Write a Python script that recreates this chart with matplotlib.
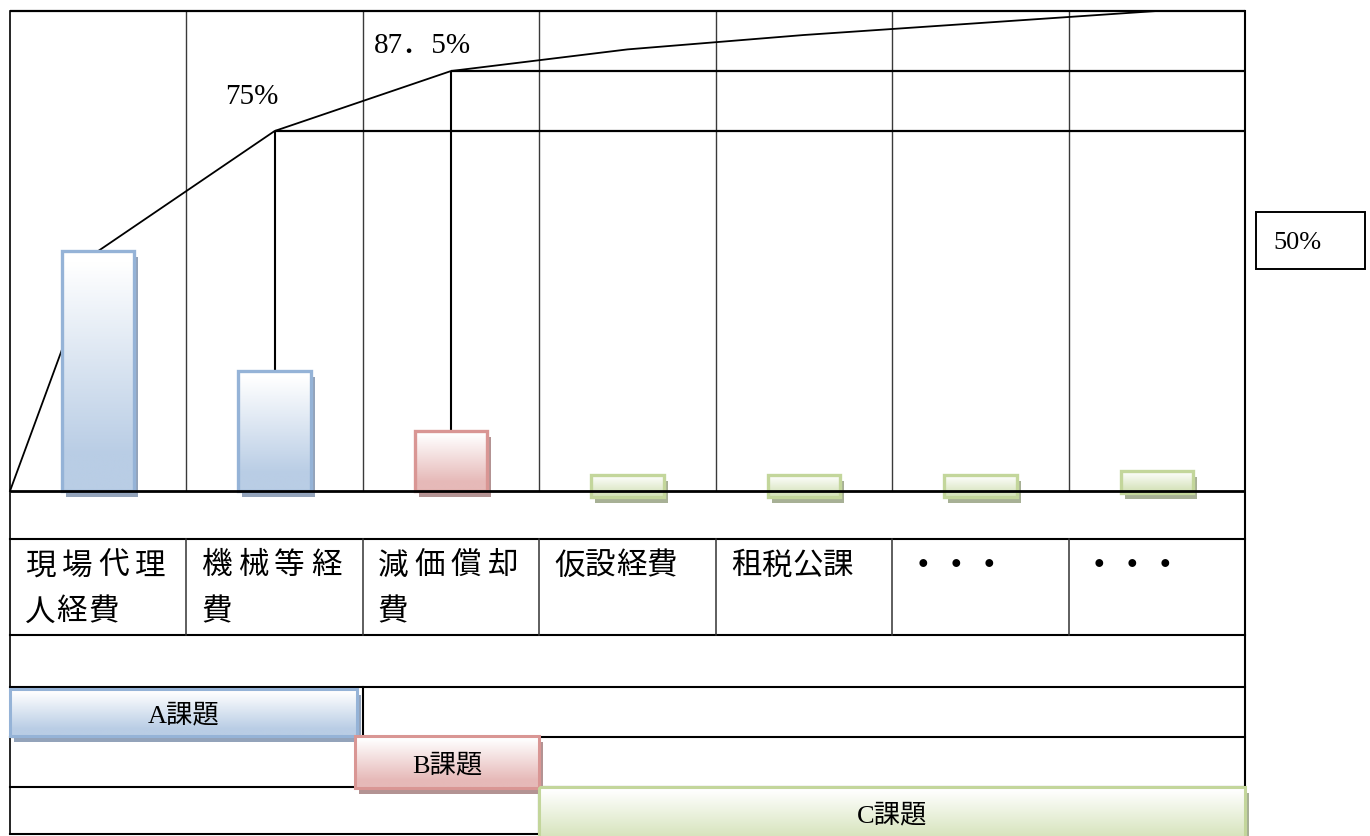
import matplotlib
matplotlib.use("Agg")
import numpy as np
import matplotlib.pyplot as plt
from matplotlib import transforms
from matplotlib.patches import Rectangle

# ---- data -------------------------------------------------------------
categories = ["現場代理人経費", "機械等経費", "減価償却費", "仮設経費", "租税公課", "・・・", "・・・"]
shares = [50, 25, 12.5, 3.3, 3.3, 3.3, 4.2]          # share of each cost item (%)
cumulative = [50, 75, 87.5, 92, 95, 97.5, 100]       # running total (%)
item_group = [0, 0, 1, 2, 2, 2, 2]                   # which task group each item falls in
groups = ["A課題", "B課題", "C課題"]
group_first = [0, 2, 3]
group_last = [1, 2, 6]

# ---- styles -----------------------------------------------------------
fill_col = ["#b9cde5", "#e6b9b8", "#d7e4bd"]
edge_col = ["#95b3d7", "#d99694", "#c3d69b"]
shadow_col = ["#93a3ba", "#b39393", "#a7b095"]
CJK = ["Noto Sans CJK JP", "DejaVu Sans"]
SERIF = ["Liberation Serif", "Noto Sans CJK JP", "DejaVu Sans"]
TAB = 4.6            # height of the small tab boxes for minor items

W, H = 1370, 837
fig = plt.figure(figsize=(W / 100, H / 100), dpi=100)
fig.patch.set_facecolor("white")

# overlay in pixel units (y down) for the table frame and text
ov = fig.add_axes([0, 0, 1, 1])
ov.axis("off")
# chart area: categories along x, percent along y
ax = fig.add_axes([10 / W, 1 - 492 / H, 1235 / W, 480 / H])
ax.axis("off")
ax.patch.set_visible(False)
ov.set_xlim(0, W); ov.set_ylim(H, 0)
ax.set_xlim(-0.5, len(categories) - 0.5); ax.set_ylim(0, 100)

blend = transforms.blended_transform_factory(ax.transData, ov.transData)
shift = transforms.ScaledTranslation(4 / 100, -6 / 100, fig.dpi_scale_trans)


def gradient(color, n=128):
    c = np.array(matplotlib.colors.to_rgb(color))
    t = np.clip((np.linspace(0, 1, n) - 0.05) / 0.8, 0, 1)[:, None]
    rgb = (1 - t) * np.ones(3) + t * c
    return rgb[:, None, :]


def to_px(x):
    disp = ax.transData.transform((x, 0))
    return ov.transData.inverted().transform(disp)[0]


def hline(y, x0, x1, lw=1.5, color="black"):
    ov.plot([x0, x1], [y, y], color=color, lw=lw, transform=blend,
            solid_capstyle="projecting", zorder=2)


def vline(x, y0, y1, lw=1.5, color="black"):
    ov.plot([x, x], [y0, y1], color=color, lw=lw, transform=blend,
            solid_capstyle="projecting", zorder=2)


n = len(categories)
left, right = -0.5, n - 0.5

# ---- table frame below the chart --------------------------------------
for y in [540, 636, 688, 738, 788]:
    hline(y, left, right)
hline(835, left, 2.5)
vline(left, 12, 835, lw=1.2)
vline(right, 12, 790)
for xb in np.arange(0.5, n - 1):
    vline(xb, 540, 636, lw=1.1, color="#333333")
vline(1.5, 688, 738)
vline(2.5, 788, 835)

# ---- chart grid --------------------------------------------------------
ax.vlines(np.arange(0.5, n - 1), 0, 100, colors="#3a3a3a", lw=1.0, zorder=1)
ax.hlines(100, left, right, colors="black", lw=1.6, zorder=1, clip_on=False)
ax.hlines(0, left, right, colors="black", lw=2.0, zorder=6, clip_on=False)

# ---- bars ---------------------------------------------------------------
x = np.arange(n)
bottoms = [0 if s > TAB * 2 else s - TAB for s in shares]
heights = [s - b for s, b in zip(shares, bottoms)]
bars = ax.bar(x, heights, bottom=bottoms, width=0.41, facecolor="none",
              edgecolor=[edge_col[g] for g in item_group], linewidth=2.4,
              zorder=5, clip_on=False)
for rect, g in zip(bars, item_group):
    x0, y0 = rect.get_x(), rect.get_y()
    w, h = rect.get_width(), rect.get_height()
    ax.add_patch(Rectangle((x0, y0), w, h, facecolor=shadow_col[g], edgecolor="none",
                           transform=ax.transData + shift, zorder=3, clip_on=False))
    ax.imshow(gradient(fill_col[g]), extent=(x0, x0 + w, y0, y0 + h), origin="upper",
              aspect="auto", zorder=4, clip_on=False, interpolation="bilinear")

# ---- cumulative curve and cut-off guides -------------------------------
ax.plot(np.concatenate(([left], x)), np.concatenate(([0], cumulative)),
        color="black", lw=1.3, zorder=2, clip_on=False)
for i in (1, 2):
    ax.vlines(i, shares[i], cumulative[i], colors="black", lw=1.5, zorder=2)
    ax.hlines(cumulative[i], i, right, colors="black", lw=1.6, zorder=2)


def pct(v):
    return f"{v:g}".replace(".", "．") + "%"


ax.annotate(pct(cumulative[1]), xy=(1, cumulative[1]), xytext=(-23, 35),
            textcoords="offset pixels", ha="center", va="center",
            fontsize=21, family=SERIF, zorder=7)
ax.annotate(pct(cumulative[2]), xy=(2, cumulative[2]), xytext=(-29, 26),
            textcoords="offset pixels", ha="center", va="center",
            fontsize=21, family=SERIF, zorder=7)

# boxed share of the leading item, outside the table
ov.add_patch(Rectangle((1256, 213), 109, 57, facecolor="white", edgecolor="black", lw=1.4))
ov.text(1273, 243, pct(cumulative[0]), ha="left", va="center", fontsize=19, family=SERIF)

# ---- category labels ----------------------------------------------------
for i, label in enumerate(categories):
    x_left = to_px(i - 0.5) + 15
    weight = "normal"
    if len(label) > 4:
        lines = [(label[:4], 36.5), (label[4:], 31.5)]
    elif set(label) == {"・"}:
        lines = [(label, 33)]
        weight = "bold"
    else:
        lines = [(label, 30.8)]
    for (txt, adv), y in zip(lines, [566, 612]):
        for k, ch in enumerate(txt):
            ov.text(x_left + k * adv, y, ch, ha="left", va="center",
                    fontsize=22, family=CJK, fontweight=weight, zorder=6)

# ---- task group bars ----------------------------------------------------
rows = [(690, 737), (737, 789), (788, 846)]
nudge = [(0, -6), (-8, 0), (0, 0)]
for g, name in enumerate(groups):
    x0 = to_px(group_first[g] - 0.5) + nudge[g][0]
    x1 = to_px(group_last[g] + 0.5) + nudge[g][1]
    y0, y1 = rows[g]
    ov.add_patch(Rectangle((x0, y0), x1 - x0, y1 - y0, facecolor=shadow_col[g],
                           edgecolor="none", transform=ov.transData + shift, zorder=3))
    ov.imshow(gradient(fill_col[g]), extent=(x0, x1, y1, y0), origin="upper",
              aspect="auto", zorder=4, interpolation="bilinear")
    ov.add_patch(Rectangle((x0, y0), x1 - x0, y1 - y0, facecolor="none",
                           edgecolor=edge_col[g], lw=2.2, zorder=5))
    ov.text((x0 + x1) / 2, (y0 + min(y1, 838)) / 2 + 2, name, ha="center", va="center",
            fontsize=19, family=SERIF, zorder=6)

ov.set_xlim(0, W); ov.set_ylim(H, 0)
ax.set_xlim(left, right); ax.set_ylim(0, 100)

fig.savefig("out.png", dpi=100, facecolor="white")
